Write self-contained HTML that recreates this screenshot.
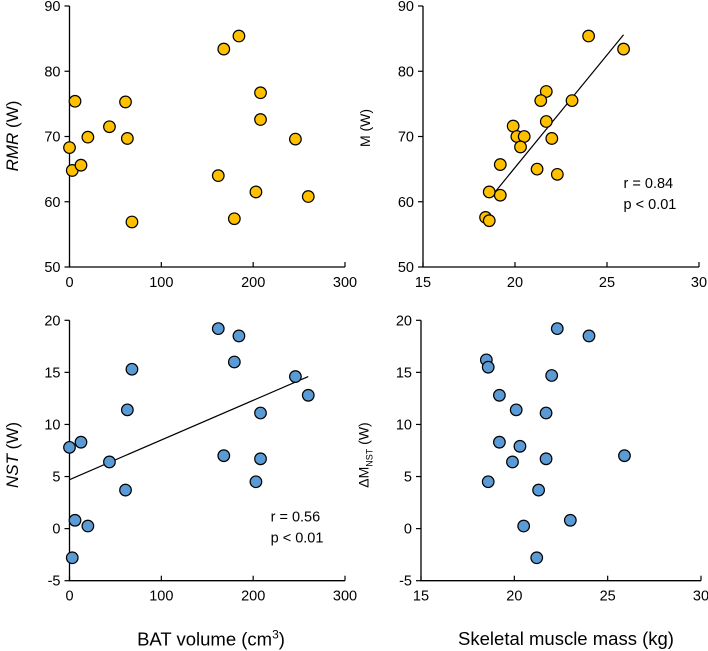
<!DOCTYPE html>
<html><head><meta charset="utf-8">
<style>
html,body{margin:0;padding:0;background:#fff;}
svg{display:block;font-family:"Liberation Sans",Arial,sans-serif;}
</style></head>
<body>
<svg id="c" width="708" height="650" viewBox="0 0 708 650"></svg>
<script>
const batVolume = [0,6,3,12.5,20,43.5,61,63,68,162,168,184.5,179.5,208,208,203,246,260];
const rmrValues = [68.3,75.4,64.8,65.6,69.9,71.5,75.3,69.7,56.9,64.0,83.4,85.4,57.4,76.7,72.6,61.5,69.6,60.8];
const nstBat = [162,184.5,179.5,68,246,260,63,208,12.5,0,43.5,168,208,203,61,6,20,3];
const nstValues = [19.2,18.5,16.0,15.3,14.6,12.8,11.4,11.1,8.3,7.8,6.4,7.0,6.7,4.5,3.7,0.8,0.25,-2.8];
const muscleA = [24.0,25.9,21.7,21.4,23.1,21.7,19.9,20.1,20.5,20.3,22.0,19.2,21.2,22.3,18.6,19.2,18.4,18.6];
const mValues = [85.4,83.4,76.9,75.5,75.5,72.3,71.6,70.0,70.0,68.4,69.7,65.7,65.0,64.2,61.5,61.0,57.6,57.1];
const muscleB = [22.3,24.0,18.5,18.6,22.0,19.2,20.1,21.7,19.2,20.3,19.9,21.7,25.9,18.6,21.3,23.0,20.5,21.2];
const dmValues = [19.2,18.5,16.2,15.5,14.7,12.8,11.4,11.1,8.3,7.9,6.4,6.7,7.0,4.5,3.7,0.8,0.25,-2.8];
const batTicks = [0,100,200,300];
const muscleTicks = [15,20,25,30];
const topYTicks = [50,60,70,80,90];
const botYTicks = [-5,0,5,10,15,20];
const fitTopRight = [[18.8,61.1],[25.9,85.6]];
const fitBotLeft = [[0,4.7],[260,14.6]];

const NS="http://www.w3.org/2000/svg";
const svg=document.getElementById('c');
function mk(tag,attrs,parent){const e=document.createElementNS(NS,tag);for(const k in attrs)e.setAttribute(k,attrs[k]);(parent||svg).appendChild(e);return e;}

function panel(name,px0,px1,py0,py1,xd,yd,xt,yt,xs,ys,color,fit,stat){
  const g=mk('g',{});
  
  
  const X=v=>px0+(v-xd[0])/(xd[1]-xd[0])*(px1-px0);
  const Y=v=>py0-(v-yd[0])/(yd[1]-yd[0])*(py0-py1);
  const ax=mk('path',{d:`M${px0} ${py1}V${py0}H${px1}`,stroke:'#000','stroke-width':1.3,fill:'none'},g);
  
  
  xt.forEach(v=>{
    mk('line',{x1:X(v),x2:X(v),y1:py0,y2:py0-5,stroke:'#000','stroke-width':1.2},g);
    const t=mk('text',{x:X(v),y:py0+20,'text-anchor':'middle','font-size':14.5,fill:'#000'},g);
    t.textContent=v;
    
    
  });
  yt.forEach(v=>{
    mk('line',{x1:px0-5,x2:px0,y1:Y(v),y2:Y(v),stroke:'#000','stroke-width':1.2},g);
    const t=mk('text',{x:px0-9,y:Y(v)+5,'text-anchor':'end','font-size':14.5,fill:'#000'},g);
    t.textContent=v;
    
    
  });
  if(fit){
    const l=mk('line',{x1:X(fit[0][0]),y1:Y(fit[0][1]),x2:X(fit[1][0]),y2:Y(fit[1][1]),stroke:'#000','stroke-width':1.2},g);
    
    
  }
  xs.forEach((v,i)=>{
    const c=mk('circle',{cx:X(v),cy:Y(ys[i]),r:5.8,fill:color,stroke:'#000','stroke-width':1.2},g);
    
    
  });
  if(stat){
    const t1=mk('text',{x:X(stat[0]),y:Y(stat[1]),'font-size':14.5,fill:'#000'},g);
    t1.textContent=stat[2];
    
    
    const t2=mk('text',{x:X(stat[0]),y:Y(stat[1])+21,'font-size':14.5,fill:'#000'},g);
    t2.textContent='p < 0.01';
    
    
  }
}
panel('rmr-vs-bat-panel',69.5,345,267,6,[0,300],[50,90],batTicks,topYTicks,batVolume,rmrValues,'#FFC000',null,null);
panel('m-vs-muscle-panel',423,699,267,6,[15,30],[50,90],muscleTicks,topYTicks,muscleA,mValues,'#FFC000',fitTopRight,[25.9,62.1,'r = 0.84']);
panel('nst-vs-bat-panel',69.5,345,580.7,320.3,[0,300],[-5,20],batTicks,botYTicks,nstBat,nstValues,'#5B9BD5',fitBotLeft,[219,0.7,'r = 0.56']);
panel('dm-vs-muscle-panel',421,701,580.7,320.3,[15,30],[-5,20],muscleTicks,botYTicks,muscleB,dmValues,'#5B9BD5',null,null);
</script>
<div style="position:absolute;left:0;top:0;width:708px;height:650px;pointer-events:none;font-family:'Liberation Sans',Arial,sans-serif;color:#000">
  <div style="position:absolute;left:13px;top:136px;transform:translate(-50%,-50%) rotate(-90deg);font-size:17px;white-space:nowrap"><i>RMR</i> (W)</div>
  <div style="position:absolute;left:365px;top:128px;transform:translate(-50%,-50%) rotate(-90deg);font-size:14px;white-space:nowrap">M (W)</div>
  <div style="position:absolute;left:13px;top:455px;transform:translate(-50%,-50%) rotate(-90deg);font-size:17px;white-space:nowrap"><i>NST</i> (W)</div>
  <div style="position:absolute;left:365px;top:455px;transform:translate(-50%,-50%) rotate(-90deg);font-size:14px;white-space:nowrap">ΔM<sub style="font-size:9px">NST</sub> (W)</div>
  <div style="position:absolute;left:211px;top:639px;transform:translate(-50%,-50%);font-size:18.5px;white-space:nowrap">BAT volume (cm<sup style="font-size:12px">3</sup>)</div>
  <div style="position:absolute;left:566px;top:639px;transform:translate(-50%,-50%);font-size:18.5px;white-space:nowrap">Skeletal muscle mass (kg)</div>
</div>
</body></html>
